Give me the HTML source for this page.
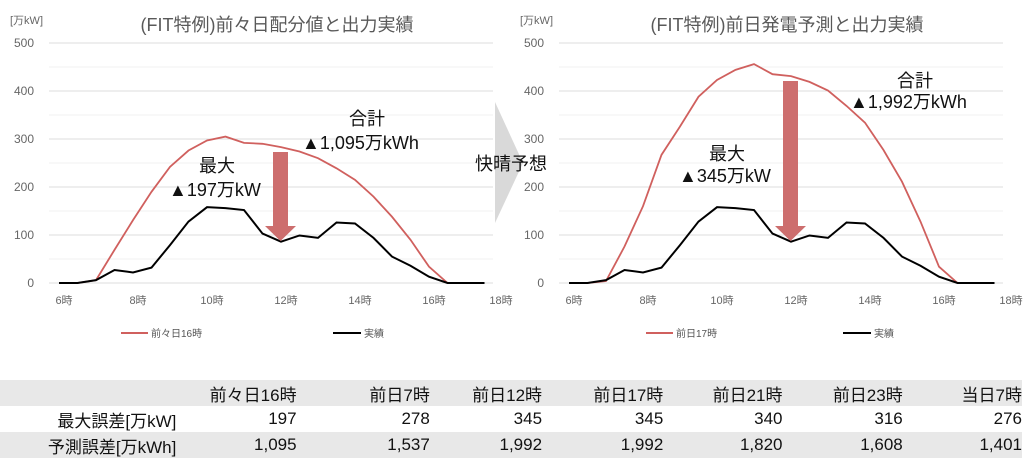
<!DOCTYPE html>
<html><head><meta charset="utf-8">
<style>
body{margin:0;width:1024px;height:464px;background:#fff;overflow:hidden;font-family:"Liberation Sans","Noto Sans CJK JP",sans-serif;position:relative}
svg{position:absolute;left:0;top:0}
table{position:absolute;left:0;top:380px;width:1022px;border-collapse:collapse;font-size:17px;color:#111}
td{height:26px;padding:0;text-align:right}
tr.g{background:#e8e8e8}
</style></head><body>
<svg id="chart" width="1024" height="370"></svg>
<table>
<colgroup><col style="width:176px"><col style="width:120px"><col style="width:133px"><col style="width:112px"><col style="width:121px"><col style="width:119px"><col style="width:120px"><col style="width:119px"></colgroup>
<tr class="g"><td></td><td>前々日16時</td><td>前日7時</td><td>前日12時</td><td>前日17時</td><td>前日21時</td><td>前日23時</td><td>当日7時</td></tr>
<tr><td>最大誤差[万kW]</td><td>197</td><td>278</td><td>345</td><td>345</td><td>340</td><td>316</td><td>276</td></tr>
<tr class="g"><td>予測誤差[万kWh]</td><td>1,095</td><td>1,537</td><td>1,992</td><td>1,992</td><td>1,820</td><td>1,608</td><td>1,401</td></tr>
</table>
<script>
const hours=[6,6.5,7,7.5,8,8.5,9,9.5,10,10.5,11,11.5,12,12.5,13,13.5,14,14.5,15,15.5,16,16.5,17,17.5];
const actual=[0,0,6,27,22,32,79,128,158,156,152,103,86,99,94,126,124,94,55,36,13,0,0,0];
const forecastLeft=[0,0,6,69,131,190,242,276,297,305,292,290,283,274,260,239,215,180,138,90,34,0,0,0];
const forecastRight=[0,0,4,76,160,267,326,388,423,444,456,435,431,419,401,369,334,277,211,128,34,0,0,0];
const yTicks=[0,100,200,300,400,500];
const xTicks=[6,8,10,12,14,16,18];
const xTickLabels=["6時","8時","10時","12時","14時","16時","18時"];
const NS="http://www.w3.org/2000/svg";
const svg=document.getElementById('chart');
function mk(tag,attrs,parent,text){const e=document.createElementNS(NS,tag);for(const k in attrs)e.setAttribute(k,attrs[k]);if(text!==undefined)e.textContent=text;(parent||svg).appendChild(e);return e;}
function drawChart(ox,title,fc,fcLabel,maxTxt,sumTxt,arrowTop,ann){
  const g=mk('g',{transform:'translate('+ox+',0)'});
  
  
  const xs=h=>59+(h-6)*37, ys=v=>283-v*0.48;
  for(let v=0;v<=500;v+=50){const l=mk('line',{x1:49,x2:493,y1:ys(v),y2:ys(v),stroke:v%100?'#f0f0f0':'#dcdcdc','stroke-width':1},g);
    }
  yTicks.forEach(v=>{const t=mk('text',{x:34,y:ys(v)+4,'text-anchor':'end','font-size':12,fill:'#666'},g,String(v));
    });
  xTicks.forEach((h,i)=>{const t=mk('text',{x:xs(h)+(h===18?-2:5),y:304,'text-anchor':'middle','font-size':11,fill:'#666'},g,xTickLabels[i]);
    });
  const u=mk('text',{x:10,y:24,'font-size':11,fill:'#666'},g,'[万kW]');
  
  const tt=mk('text',{x:277,y:31,'text-anchor':'middle','font-size':18,fill:'#595959'},g,title);
  
  const p1=mk('polyline',{points:hours.map((h,i)=>xs(h)+','+ys(fc[i])).join(' '),fill:'none',stroke:'#d0605e','stroke-width':1.8},g);
  
  const p2=mk('polyline',{points:hours.map((h,i)=>xs(h)+','+ys(actual[i])).join(' '),fill:'none',stroke:'#000','stroke-width':2},g);
  
  const ar=mk('polygon',{points:`273,${arrowTop} 288,${arrowTop} 288,226 296,226 280.5,241 265,226 273,226`,fill:'#cd6e6e'},g);
  
  [[ann[0],ann[1],'最大'],[ann[2],ann[3],maxTxt],[ann[4],ann[5],'合計'],[ann[6],ann[7],sumTxt]].forEach(a=>{
    const t=mk('text',{x:a[0],y:a[1],'font-size':18,fill:'#111'},g,a[2]);
    });
  const lx=ox?136:121;
  const l1=mk('line',{x1:lx,x2:lx+27,y1:333,y2:333,stroke:'#d0605e','stroke-width':2},g);
  
  const t1=mk('text',{x:lx+30,y:337,'font-size':10,fill:'#555'},g,fcLabel);
  
  const l2=mk('line',{x1:333,x2:361,y1:333,y2:333,stroke:'#000','stroke-width':2},g);
  
  const t2=mk('text',{x:364,y:337,'font-size':10,fill:'#555'},g,'実績');
  
}
drawChart(0,'(FIT特例)前々日配分値と出力実績',forecastLeft,'前々日16時','▲197万kW','▲1,095万kWh',152,[199,172,169,196,349,125,302,149]);
drawChart(510,'(FIT特例)前日発電予測と出力実績',forecastRight,'前日17時','▲345万kW','▲1,992万kWh',81,[199,160,169,182,387,87,340,108]);
const tri=mk('polygon',{points:'495,102 523,163 495,223',fill:'#d9d9d9'});

const cl=mk('text',{x:511,y:170,'text-anchor':'middle','font-size':18,fill:'#111'},svg,'快晴予想');

</script>
</body></html>
